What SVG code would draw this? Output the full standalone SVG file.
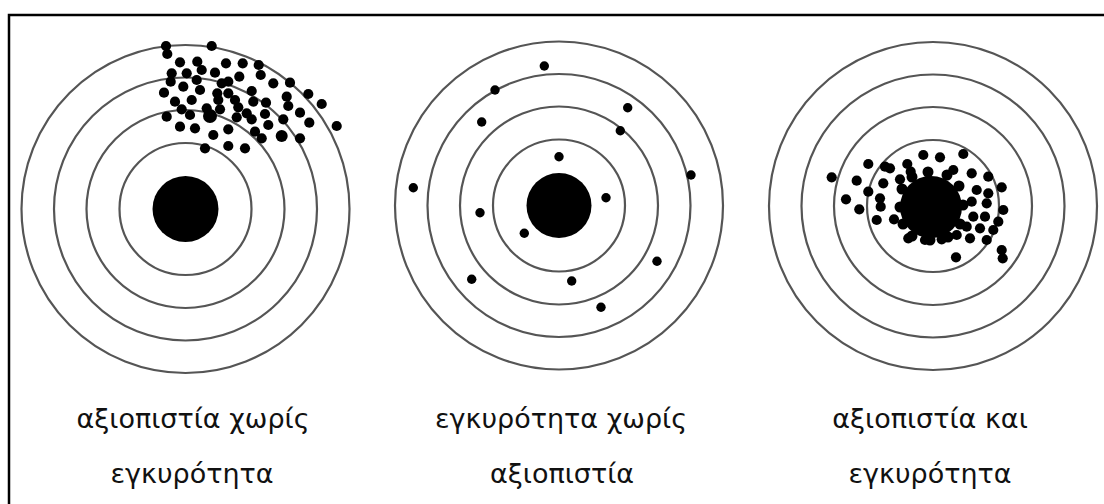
<svg xmlns="http://www.w3.org/2000/svg" width="1104" height="504" viewBox="0 0 1104 504">
<style>
.ring{fill:none;stroke:#555;stroke-width:2.2}
.bull{fill:#000}
.dot{fill:#000}
.lbl{font-family:"DejaVu Sans","Noto Sans",sans-serif;font-size:27px;fill:#111;text-anchor:middle}
</style>
<rect x="0" y="0" width="1104" height="504" fill="#fff"/>
<rect x="9" y="15" width="1200" height="600" fill="none" stroke="#000" stroke-width="2.5"/>

<g id="target1">
<circle class="ring" cx="185.5" cy="209" r="164"/>
<circle class="ring" cx="185.5" cy="209" r="131.5"/>
<circle class="ring" cx="185.5" cy="209" r="99"/>
<circle class="ring" cx="185.5" cy="209" r="66"/>
<circle class="bull" cx="185.5" cy="209" r="33"/>
<g class="dot">
<circle cx="166" cy="46" r="5.1"/><circle cx="211.7" cy="46" r="5.1"/><circle cx="167.3" cy="54" r="5.1"/>
<circle cx="180" cy="62.3" r="5.1"/><circle cx="197.3" cy="61.7" r="5.1"/><circle cx="226" cy="63.3" r="5.1"/>
<circle cx="242.7" cy="63.3" r="5.1"/><circle cx="258.7" cy="65" r="5.1"/><circle cx="171.7" cy="73.3" r="5.1"/>
<circle cx="186.7" cy="73.3" r="5.1"/><circle cx="201.7" cy="70" r="5.1"/><circle cx="215" cy="72.7" r="5.1"/>
<circle cx="239.3" cy="76.7" r="5.1"/><circle cx="260.7" cy="75" r="5.1"/><circle cx="170.7" cy="81.7" r="5.1"/>
<circle cx="183.3" cy="86.7" r="5.1"/><circle cx="196.7" cy="80" r="5.1"/><circle cx="200" cy="90" r="5.1"/>
<circle cx="221.7" cy="83.3" r="5.1"/><circle cx="228.3" cy="81.7" r="5.1"/><circle cx="273.3" cy="83.3" r="5.1"/>
<circle cx="290" cy="82.7" r="5.1"/><circle cx="164" cy="92.7" r="5.1"/><circle cx="217.3" cy="93.3" r="5.1"/>
<circle cx="228.3" cy="93.3" r="5.1"/><circle cx="251.7" cy="91" r="5.1"/><circle cx="308.3" cy="94" r="5.1"/>
<circle cx="286.7" cy="96.7" r="5.1"/><circle cx="175" cy="101.7" r="5.1"/><circle cx="191.7" cy="100" r="5.1"/>
<circle cx="218.3" cy="100" r="5.1"/><circle cx="235" cy="100" r="5.1"/><circle cx="253.3" cy="101.7" r="5.1"/>
<circle cx="266" cy="102.7" r="5.1"/><circle cx="321.7" cy="104" r="5.1"/><circle cx="181.7" cy="109.3" r="5.1"/>
<circle cx="206.7" cy="108.3" r="5.1"/><circle cx="220" cy="109.3" r="5.1"/><circle cx="238.3" cy="107.3" r="5.1"/>
<circle cx="246.7" cy="113.3" r="5.1"/><circle cx="265" cy="114" r="5.1"/><circle cx="288.3" cy="106" r="5.1"/>
<circle cx="300" cy="112.7" r="5.1"/><circle cx="166.7" cy="116.7" r="5.1"/><circle cx="190" cy="115" r="5.1"/>
<circle cx="210" cy="116" r="7"/><circle cx="236.7" cy="117.3" r="5.1"/><circle cx="251.7" cy="119.3" r="5.1"/>
<circle cx="283.3" cy="119.3" r="5.1"/><circle cx="309.3" cy="122.7" r="5.1"/><circle cx="336.7" cy="126" r="5.1"/>
<circle cx="180" cy="126.7" r="5.1"/><circle cx="195" cy="128.3" r="5.1"/><circle cx="228.3" cy="129.3" r="5.1"/>
<circle cx="268.3" cy="125" r="5.1"/><circle cx="255" cy="131.7" r="5.1"/><circle cx="213.3" cy="135" r="5.1"/>
<circle cx="261.7" cy="138.3" r="5.1"/><circle cx="281.7" cy="136" r="6"/><circle cx="300" cy="138.3" r="5.1"/>
<circle cx="205" cy="148.3" r="5.1"/><circle cx="228.3" cy="146" r="5.1"/><circle cx="245" cy="148.3" r="5.1"/>
</g>
<text class="lbl" x="193" y="428">αξιοπιστία χωρίς</text>
<text class="lbl" x="192" y="483">εγκυρότητα</text>
</g>

<g id="target2">
<circle class="ring" cx="559" cy="205.5" r="164"/>
<circle class="ring" cx="559" cy="205.5" r="131.5"/>
<circle class="ring" cx="559" cy="205.5" r="99"/>
<circle class="ring" cx="559" cy="205.5" r="66"/>
<circle class="bull" cx="559" cy="205.5" r="32.5"/>
<g class="dot">
<circle cx="544.3" cy="66" r="4.7"/><circle cx="495" cy="90" r="4.7"/><circle cx="627.7" cy="107.7" r="4.7"/>
<circle cx="481.7" cy="122" r="4.7"/><circle cx="620.3" cy="130.7" r="4.7"/><circle cx="559" cy="156.7" r="4.7"/>
<circle cx="691" cy="175" r="4.7"/><circle cx="413.3" cy="187.7" r="4.7"/><circle cx="606" cy="197.7" r="4.7"/>
<circle cx="480" cy="212.7" r="4.7"/><circle cx="524.3" cy="233.3" r="4.7"/><circle cx="657" cy="261.3" r="4.7"/>
<circle cx="471.7" cy="279.3" r="4.7"/><circle cx="571.7" cy="281" r="4.7"/><circle cx="601" cy="307.3" r="4.7"/>
</g>
<text class="lbl" x="561" y="428">εγκυρότητα χωρίς</text>
<text class="lbl" x="562" y="483">αξιοπιστία</text>
</g>

<g id="target3">
<circle class="ring" cx="933" cy="206" r="164"/>
<circle class="ring" cx="933" cy="206" r="131.5"/>
<circle class="ring" cx="933" cy="206" r="99"/>
<circle class="ring" cx="933" cy="206" r="66"/>
<circle class="bull" cx="931" cy="207" r="31"/>
<g class="dot">
<circle cx="902" cy="189" r="5.5"/><circle cx="900" cy="207" r="5.5"/><circle cx="903" cy="224" r="5.5"/>
<circle cx="912" cy="236" r="5.5"/><circle cx="930" cy="240" r="5.5"/><circle cx="948" cy="237" r="5.5"/>
<circle cx="960" cy="224" r="5.5"/><circle cx="963" cy="205" r="5.5"/><circle cx="959" cy="186" r="5.5"/>
<circle cx="947" cy="175" r="5.5"/><circle cx="928" cy="172" r="5.5"/><circle cx="912" cy="177" r="5.5"/>
<circle cx="831.7" cy="177.3" r="5.1"/><circle cx="868.3" cy="164" r="5.1"/><circle cx="885" cy="166.7" r="5.1"/>
<circle cx="890" cy="168.3" r="5.1"/><circle cx="907.3" cy="164" r="5.1"/><circle cx="910.7" cy="171.7" r="5.1"/>
<circle cx="923.3" cy="155" r="5.1"/><circle cx="940" cy="157.3" r="5.1"/><circle cx="963.3" cy="154" r="5.1"/>
<circle cx="953.3" cy="170" r="5.1"/><circle cx="971.7" cy="173.3" r="5.1"/><circle cx="988.3" cy="176.7" r="5.1"/>
<circle cx="856.7" cy="180.7" r="5.1"/><circle cx="883.3" cy="183.3" r="5.1"/><circle cx="900" cy="179.3" r="5.1"/>
<circle cx="868.3" cy="191.7" r="5.1"/><circle cx="880" cy="198.3" r="5.1"/><circle cx="880.7" cy="206.7" r="5.1"/>
<circle cx="846" cy="199.3" r="5.1"/><circle cx="859.3" cy="209.3" r="5.1"/><circle cx="876.7" cy="220" r="5.1"/>
<circle cx="894" cy="219.3" r="5.1"/><circle cx="976.7" cy="190" r="5.1"/><circle cx="988.3" cy="193.3" r="5.1"/>
<circle cx="1001.7" cy="187.3" r="5.1"/><circle cx="971.7" cy="201.7" r="5.1"/><circle cx="986.7" cy="203.3" r="5.1"/>
<circle cx="1003.3" cy="210" r="5.1"/><circle cx="973.3" cy="216.7" r="5.1"/><circle cx="985" cy="216.7" r="5.1"/>
<circle cx="998.3" cy="221.7" r="5.1"/><circle cx="966.7" cy="226.7" r="5.1"/><circle cx="980" cy="228.3" r="5.1"/>
<circle cx="993.3" cy="230" r="5.1"/><circle cx="970" cy="238.3" r="5.1"/><circle cx="986.7" cy="240" r="5.1"/>
<circle cx="908.3" cy="238.3" r="5.1"/><circle cx="925" cy="240" r="5.1"/><circle cx="941.7" cy="239.3" r="5.1"/>
<circle cx="956.7" cy="235" r="5.1"/><circle cx="1001.7" cy="250" r="5.1"/><circle cx="1002.7" cy="258.3" r="5.1"/>
<circle cx="956" cy="257.3" r="5.1"/>
</g>
<text class="lbl" x="930" y="428">αξιοπιστία και</text>
<text class="lbl" x="930" y="483">εγκυρότητα</text>
</g>
</svg>
